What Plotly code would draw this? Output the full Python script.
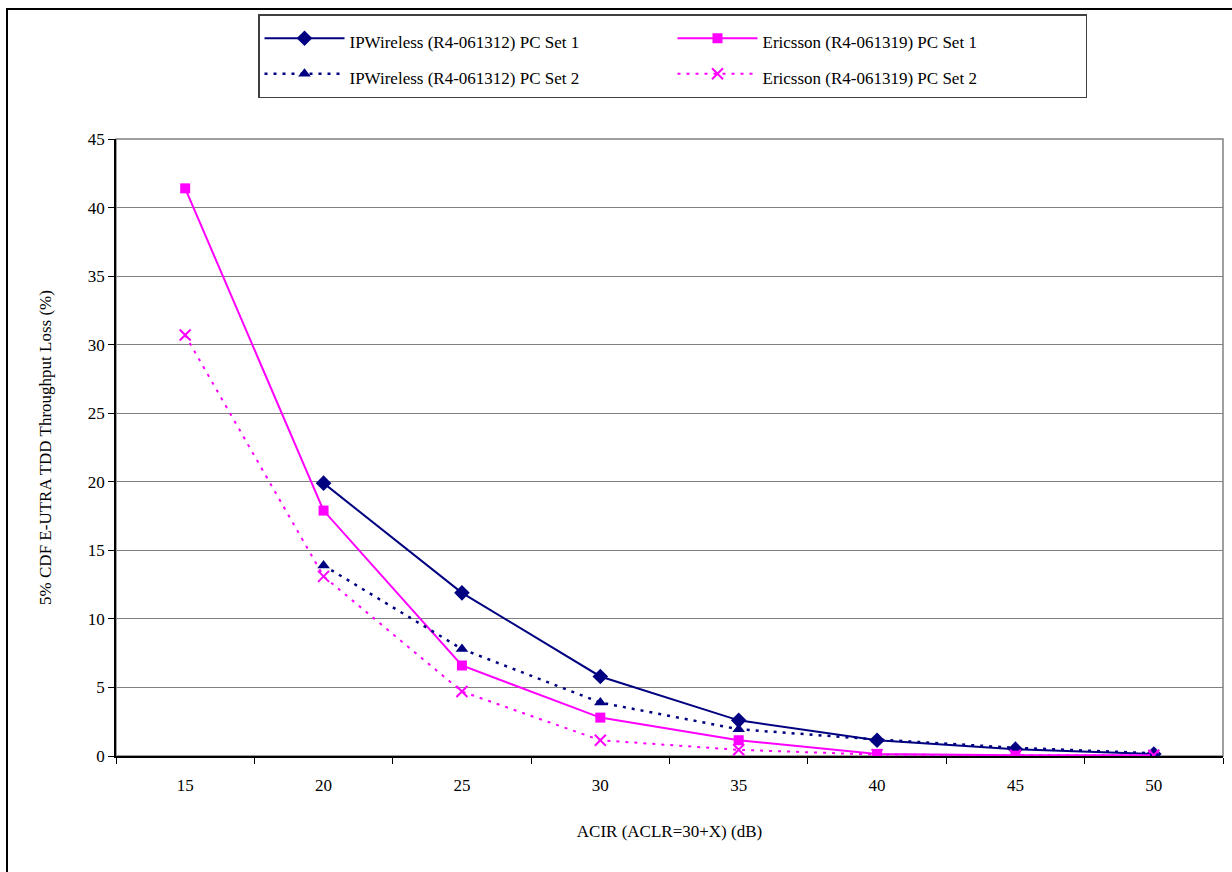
import plotly.graph_objects as go

acir = ["15", "20", "25", "30", "35", "40", "45", "50"]
ipw_set1 = [None, 19.9, 11.9, 5.8, 2.6, 1.15, 0.5, 0.15]
eri_set1 = [41.4, 17.9, 6.6, 2.8, 1.15, 0.15, 0.05, 0.05]
ipw_set2 = [None, 13.9, 7.8, 3.9, 1.95, 1.2, 0.6, 0.2]
eri_set2 = [30.7, 13.1, 4.7, 1.15, 0.45, 0.1, 0.05, 0.05]

series_names = [
    "IPWireless (R4-061312) PC Set 1",
    "Ericsson (R4-061319) PC Set 1",
    "IPWireless (R4-061312) PC Set 2",
    "Ericsson (R4-061319) PC Set 2",
]

y_ticks = [0, 5, 10, 15, 20, 25, 30, 35, 40, 45]

NAVY = "#000080"
MAG = "#FF00FF"
FONT = "Liberation Serif, Times New Roman, serif"
FS = 17


def lg(name):
    return '<span style="font-size:%dpx">%s</span>' % (FS, name)


fig = go.Figure()
fig.add_trace(go.Scatter(x=acir, y=ipw_set1, name=lg(series_names[0]),
                         mode="lines+markers", line=dict(color=NAVY, width=2),
                         marker=dict(symbol="diamond", size=12, color=NAVY)))
fig.add_trace(go.Scatter(x=acir, y=eri_set1, name=lg(series_names[1]),
                         mode="lines+markers", line=dict(color=MAG, width=2),
                         marker=dict(symbol="square", size=10, color=MAG)))
fig.add_trace(go.Scatter(x=acir, y=ipw_set2, name=lg(series_names[2]),
                         mode="lines+markers", line=dict(color=NAVY, width=2.5, dash="3px,6px"),
                         marker=dict(symbol="triangle-up", size=11, color=NAVY)))
fig.add_trace(go.Scatter(x=acir, y=eri_set2, name=lg(series_names[3]),
                         mode="lines+markers", line=dict(color=MAG, width=2, dash="3px,6px"),
                         marker=dict(symbol="x-thin", size=11, color=MAG,
                                     line=dict(color=MAG, width=2))))

W, H = 1232, 872
L, R, T, B = 116, 9, 139, 116
pw, ph = W - L - R, H - T - B


def px_to_paper_x(px):
    return (px - L) / pw


def px_to_paper_y(py):
    return (H - B - py) / ph


shapes = [
    dict(type="rect", xref="paper", yref="paper", x0=0, x1=1, y0=0, y1=1,
         line=dict(color="#808080", width=1.5), layer="below"),
    dict(type="rect", xref="paper", yref="paper",
         x0=px_to_paper_x(7), x1=px_to_paper_x(1260),
         y0=px_to_paper_y(900), y1=px_to_paper_y(9),
         line=dict(color="black", width=2)),
]

fig.update_layout(
    width=W, height=H,
    margin=dict(l=L, r=R, t=T, b=B, pad=0, autoexpand=False),
    paper_bgcolor="white", plot_bgcolor="white",
    font=dict(family=FONT, size=FS, color="black"),
    shapes=shapes,
    showlegend=True,
    legend=dict(
        orientation="h", x=px_to_paper_x(258), y=px_to_paper_y(14),
        xanchor="left", yanchor="top",
        entrywidth=318, entrywidthmode="pixels",
        itemwidth=80,
        bgcolor="white", bordercolor="#404040", borderwidth=1.5,
        font=dict(family=FONT, size=25, color="black"),
        tracegroupgap=0,
    ),
    xaxis=dict(
        type="category", categoryorder="array", categoryarray=acir,
        tickson="boundaries", ticks="outside", ticklen=6, tickcolor="black",
        showline=True, linecolor="black", linewidth=1.5, showgrid=False,
        ticklabelstandoff=13,
        title=dict(text="ACIR (ACLR=30+X) (dB)", standoff=31,
                   font=dict(family=FONT, size=FS)),
        range=[-0.5, 7.5],
        tickfont=dict(family=FONT, size=FS),
    ),
    yaxis=dict(
        range=[0, 45], tickvals=y_ticks, ticks="outside", ticklen=6, tickcolor="black",
        showline=True, linecolor="black", linewidth=1.5,
        showgrid=True, gridcolor="#808080", gridwidth=1, zeroline=False,
        title=dict(text="5% CDF E-UTRA TDD Throughput Loss (%)", standoff=32,
                   font=dict(family=FONT, size=FS)),
        tickfont=dict(family=FONT, size=FS),
    ),
)

fig.write_html("out.html", config={"displayModeBar": False},
               post_script="document.body.style.margin='0';")
